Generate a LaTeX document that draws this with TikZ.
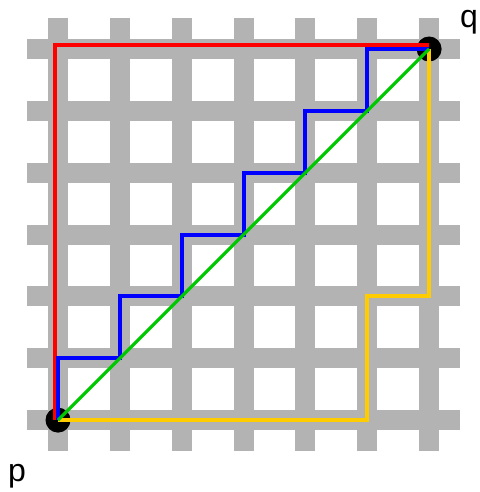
\documentclass[tikz,border=0pt]{standalone}
\usepackage{fontspec}
\setmainfont{Liberation Sans}
\definecolor{G}{RGB}{179,179,179}
\definecolor{R}{RGB}{255,0,0}
\definecolor{B}{RGB}{0,0,255}
\definecolor{E}{RGB}{0,200,0}
\definecolor{Y}{RGB}{255,204,0}
\def\Xstart{58}
\def\Ystart{49}
\def\Gap{61.85}
\def\Reach{31}
\def\Bar{20}
\def\TotalN{6}

\begin{document}
\begin{tikzpicture}[x=1pt,y=-1pt]
    \path[use as bounding box] (0,0) rectangle (479,492);
    \foreach \I in {0,...,\TotalN} {
        \draw[G,line width=\Bar pt] ({\Xstart+\I*\Gap},{\Ystart-\Reach}) -- ({\Xstart+\I*\Gap},{\Ystart+\TotalN*\Gap+\Reach});
        \draw[G,line width=\Bar pt] ({\Xstart-\Reach},{\Ystart+\I*\Gap}) -- ({\Xstart+\TotalN*\Gap+\Reach},{\Ystart+\I*\Gap});
    }
    \foreach \I in {0,...,\TotalN} {\foreach \J in {0,...,\TotalN} {
        \coordinate (C\I-\J) at ({\Xstart+\I*\Gap},{\Ystart+(\TotalN-\J)*\Gap});
    }}
    \node[circle,fill=black,minimum size=25pt,inner sep=0pt] (p) at (C0-0) {};
    \node[circle,fill=black,minimum size=25pt,inner sep=0pt] (q) at (C6-6) {};
    \node[anchor=base,inner sep=0pt,font=\fontsize{32}{38}\selectfont] (plabel) at (17,481) {p};
    \node[anchor=base,inner sep=0pt,font=\fontsize{32}{38}\selectfont] (qlabel) at (469,28) {q};
    % the four routes from p to q
    \draw[R,line width=4pt] ([xshift=-3pt]p.center) |- ([yshift=4pt]q.center);
    \draw[B,line width=4pt] (p.center) |- (C1-1) |- (C2-2) |- (C3-3) |- (C4-4) |- (C5-5) |- (q.center);
    \draw[Y,line width=4pt] (p.center) -| (C5-2) -| (q.center);
    \draw[E,line width=3.2pt] (p.center) -- (q.center);
\end{tikzpicture}
\end{document}
